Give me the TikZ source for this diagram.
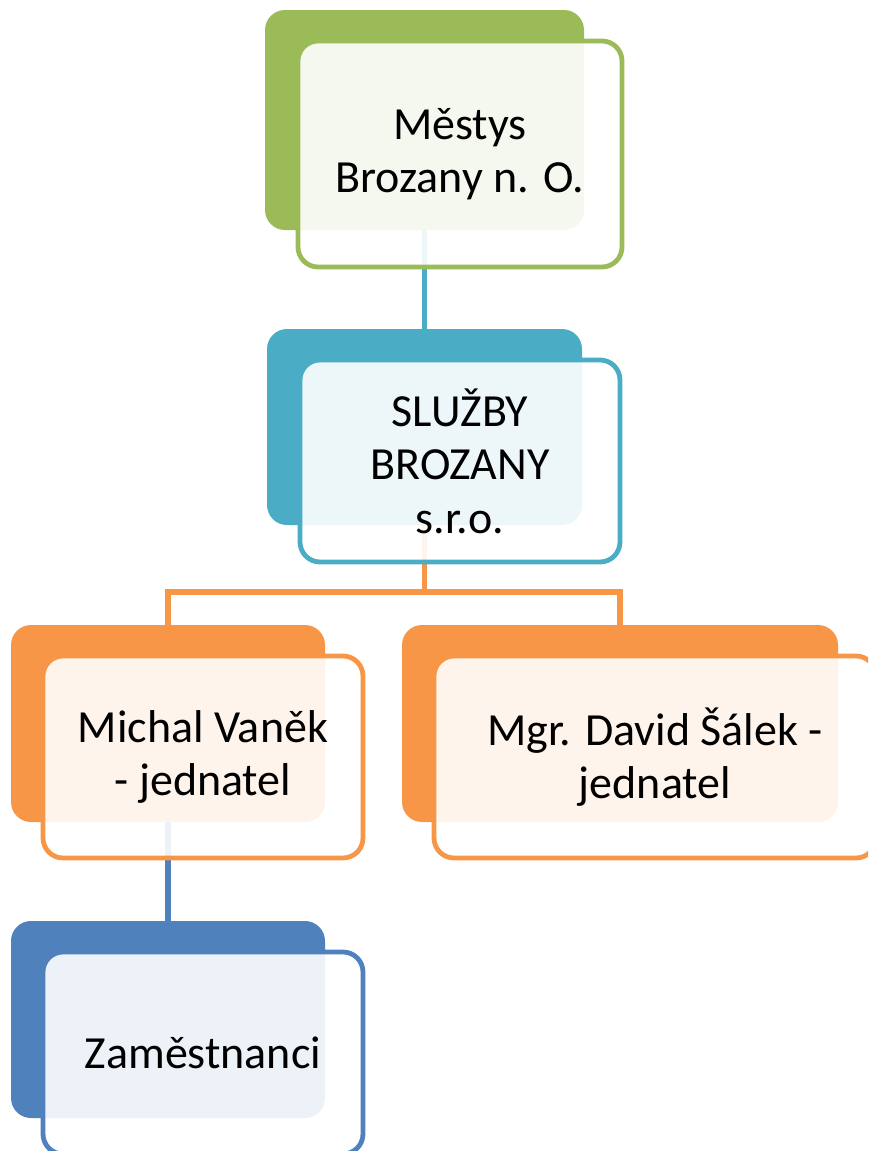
\documentclass[tikz,border=0pt]{standalone}
\usepackage{fontspec}
\setmainfont{Carlito}
\definecolor{cgreen}{HTML}{9BBB59}
\definecolor{cteal}{HTML}{4BACC6}
\definecolor{corange}{HTML}{F79646}
\definecolor{cblue}{HTML}{4F81BD}
\tikzset{
  backbox/.style={fill=#1, draw=none, rounded corners=20pt, inner sep=0pt},
  frontbox/.style={draw=#1, line width=4.8pt, fill=white, fill opacity=0.9, text opacity=1,
    rounded corners=20pt, inner sep=0pt, align=center, text=black,
    font=\fontsize{46}{53.5}\selectfont},
  conn/.style={draw=#1, line width=5.2pt},
}
\begin{document}
\begin{tikzpicture}[x=1pt, y=-1pt]
\clip (0,0) rectangle (868,1151);
% back boxes
\node[backbox=cgreen, minimum width=319pt, minimum height=220pt] (b1) at (424.5,120) {};
\node[backbox=cteal, minimum width=315pt, minimum height=196pt] (b2) at (424.5,427) {};
\node[backbox=corange, minimum width=314pt, minimum height=197pt] (b3) at (168,723.5) {};
\node[backbox=corange, minimum width=436pt, minimum height=197pt] (b4) at (620,723.5) {};
\node[backbox=cblue, minimum width=314pt, minimum height=197pt] (b5) at (168,1019.5) {};
% connectors
\coordinate (bar) at (0,592);
\draw[conn=cteal] (b1.south) -- (b2.north);
\draw[conn=corange] (b2.south) -- (b2.south |- bar) -| (b3.north);
\draw[conn=corange] (b2.south |- bar) -| (b4.north);
\draw[conn=cblue] (b3.south) -- (b5.north);
% front boxes
\node[frontbox=cgreen, minimum width=324pt, minimum height=226pt] (f1) at (460,154) {Městys\\Brozany n. O.};
\node[frontbox=cteal, minimum width=320pt, minimum height=202pt] (f2) at (460,461) {SLUŽBY\\BROZANY\\s.r.o.};
\node[frontbox=corange, minimum width=320pt, minimum height=202pt] (f3) at (203,757) {Michal Vaněk\\- jednatel};
\node[frontbox=corange, minimum width=442pt, minimum height=202pt] (f4) at (655,757) {Mgr. David Šálek -\\jednatel};
\node[frontbox=cblue, minimum width=320pt, minimum height=202pt] (f5) at (203,1053) {Zaměstnanci};
\end{tikzpicture}
\end{document}
